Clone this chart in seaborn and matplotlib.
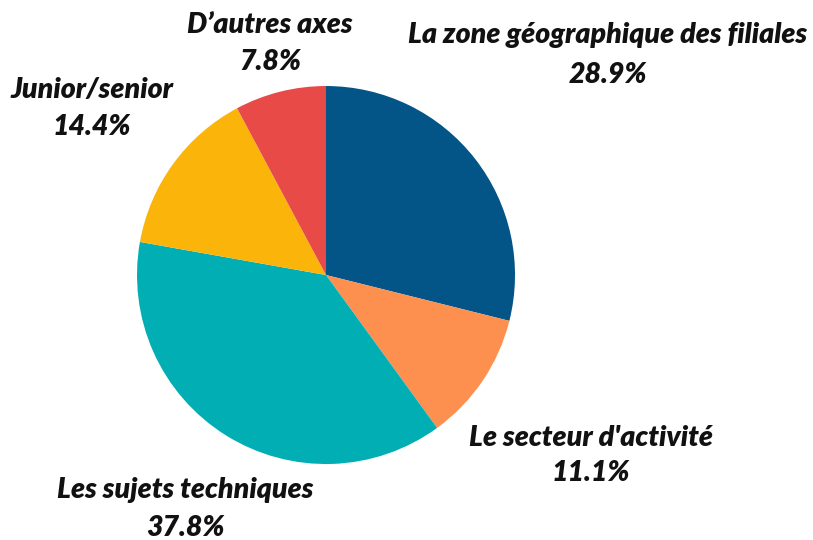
import matplotlib
matplotlib.use("Agg")
import matplotlib.pyplot as plt
import seaborn as sns

# Data
labels = ["La zone géographique des filiales", "Le secteur d'activité",
          "Les sujets techniques", "Junior/senior", "D\u2019autres axes"]
values = [28.9, 11.1, 37.8, 14.4, 7.8]
colors = ["#035487", "#FE904F", "#00AEB3", "#FBB40A", "#E84A48"]

sns.set_theme(style="white")
plt.rcParams['font.family'] = ['Lato', 'DejaVu Sans']

fig = plt.figure(figsize=(8.13, 5.40), dpi=100)
ax = fig.add_axes([0.1685, 0.1407, 0.465, 0.70])

ax.pie(values, colors=colors, startangle=90, counterclock=False,
       radius=1, wedgeprops=dict(linewidth=0))
ax.set_xlim(-1, 1)
ax.set_ylim(-1, 1)
ax.set_aspect('equal')
ax.axis('off')

# label positions (data units, pie radius = 1)
label_pos = [(1.49, 1.27, 1.058), (1.40, -0.862, -1.048), (-0.746, -1.138, -1.339),
             (-1.238, 0.979, 0.783), (-0.296, 1.323, 1.127)]

for lab, v, (x, y1, y2) in zip(labels, values, label_pos):
    ax.text(x, y1, lab, ha='center', va='center', fontsize=20.5,
            fontweight='heavy', fontstyle='italic', color='#111111')
    ax.text(x, y2, f"{v}%", ha='center', va='center', fontsize=20.5,
            fontweight='heavy', fontstyle='italic', color='#111111')

fig.savefig("out.png", dpi=100)
